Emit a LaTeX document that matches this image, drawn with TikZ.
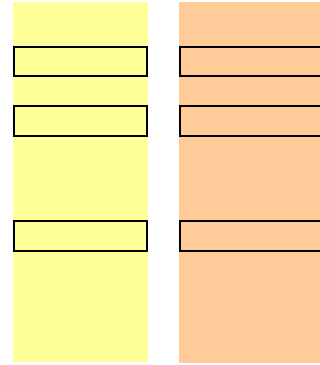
\documentclass[tikz,border=0pt]{standalone}
\usetikzlibrary{positioning}
\definecolor{SoftYellow}{RGB}{255,255,153}
\definecolor{SoftOrange}{RGB}{255,204,153}
\tikzset{
  column/.style={inner sep=0pt,outer sep=0pt,minimum height=360pt},
  slot/.style={draw=black,line width=2pt,inner sep=0pt,outer sep=0pt,
    minimum height=30pt}
}
\begin{document}
\begin{tikzpicture}[x=1pt,y=-1pt]
  \useasboundingbox (0,0) rectangle (320,365);
  \clip (0,0) rectangle (320,365);
  % the two columns
  \node[column,fill=SoftYellow,minimum width=135pt] (left) at (80.5,182) {};
  \node[column,fill=SoftOrange,minimum width=145pt,minimum height=361pt] (right) at (251.5,182.5) {};
  % boxes in the yellow column
  \node[slot,fill=SoftYellow,minimum width=133pt,minimum height=29pt] (l1) at (80.5,61.5) {};
  \node[slot,fill=SoftYellow,minimum width=133pt] (l2) at (80.5,121) {};
  \node[slot,fill=SoftYellow,minimum width=133pt] (l3) at (80.5,236) {};
  % boxes in the orange column
  \node[slot,fill=SoftOrange,minimum width=150pt,minimum height=29pt] (r1) at (255,61.5) {};
  \node[slot,fill=SoftOrange,minimum width=150pt] (r2) at (255,121) {};
  \node[slot,fill=SoftOrange,minimum width=150pt] (r3) at (255,236) {};
\end{tikzpicture}
\end{document}
